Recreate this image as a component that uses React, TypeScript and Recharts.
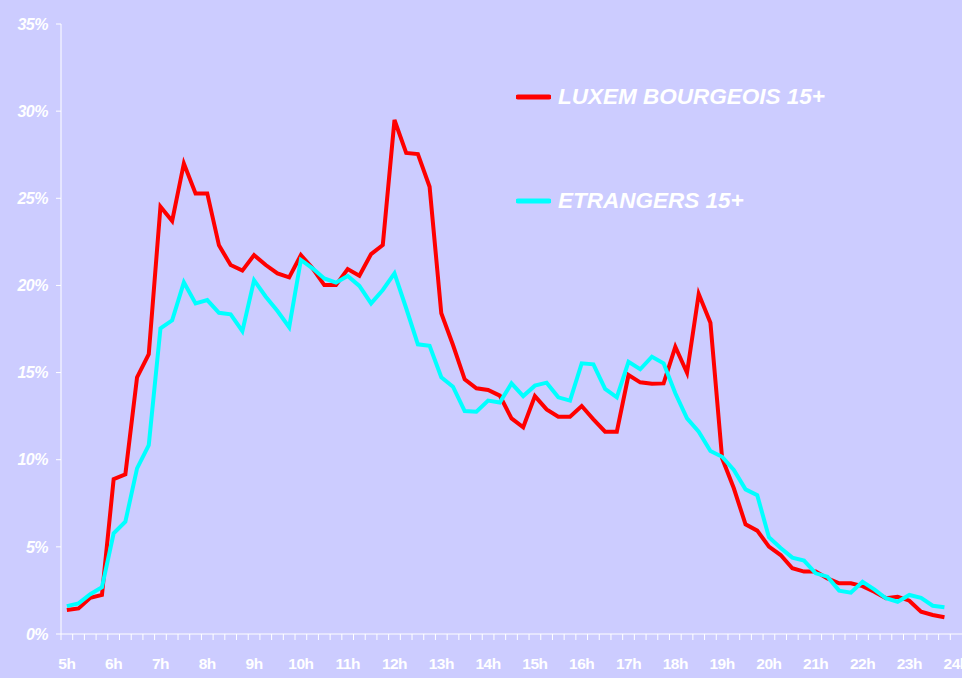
import React from "react";
import { LineChart, Line, XAxis, YAxis, Legend } from "recharts";

// hour labels shown on the x axis (one category every quarter hour)
const HOURS = ["5h", "6h", "7h", "8h", "9h", "10h", "11h", "12h", "13h", "14h", "15h", "16h", "17h", "18h", "19h", "20h", "21h", "22h", "23h", "24h"];
const QUARTERS = ["", "15", "30", "45"];

const Y_TICKS = [0, 5, 10, 15, 20, 25, 30, 35];

const LUXEMBOURGEOIS = [
  1.38, 1.47, 2.08, 2.24, 8.89, 9.16, 14.73, 16.06,
  24.52, 23.7, 27.0, 25.28, 25.28, 22.3, 21.17, 20.85,
  21.74, 21.17, 20.69, 20.46, 21.74, 20.98, 20.02, 20.02,
  20.94, 20.56, 21.8, 22.32, 29.49, 27.6, 27.54, 25.66,
  18.4, 16.58, 14.61, 14.1, 14.0, 13.68, 12.37, 11.86,
  13.65, 12.89, 12.47, 12.47, 13.08, 12.32, 11.61, 11.61,
  14.86, 14.44, 14.36, 14.38, 16.48, 14.99, 19.51, 17.86,
  10.08, 8.36, 6.29, 5.93, 5.01, 4.53, 3.77, 3.58,
  3.58, 3.19, 2.91, 2.91, 2.75, 2.43, 2.05, 2.14,
  1.91, 1.28, 1.09, 0.96,
];

const ETRANGERS = [
  1.6, 1.76, 2.28, 2.68, 5.78, 6.44, 9.5, 10.84,
  17.54, 18.0, 20.18, 18.97, 19.16, 18.43, 18.34, 17.38,
  20.3, 19.35, 18.53, 17.6, 21.46, 20.98, 20.4, 20.16,
  20.54, 19.97, 18.97, 19.74, 20.69, 18.69, 16.62, 16.54,
  14.73, 14.19, 12.79, 12.75, 13.39, 13.28, 14.38, 13.65,
  14.25, 14.42, 13.58, 13.39, 15.53, 15.47, 14.06, 13.58,
  15.62, 15.19, 15.91, 15.53, 13.81, 12.37, 11.61, 10.5,
  10.17, 9.41, 8.3, 7.97, 5.55, 4.93, 4.38, 4.21,
  3.48, 3.29, 2.49, 2.37, 3.0, 2.56, 2.05, 1.85,
  2.24, 2.08, 1.62, 1.53,
];

const SERIES = [
  { key: "lux", name: "LUXEM BOURGEOIS 15+", color: "#FF0000" },
  { key: "etr", name: "ETRANGERS 15+", color: "#00FFFF" },
];

// quarter-hour slots, plus the empty 24h slot at the end
const slots: string[] = [];
HOURS.slice(0, -1).forEach((h) => QUARTERS.forEach((q) => slots.push(h + q)));
slots.push(HOURS[HOURS.length - 1]);

const data = slots.map((slot, i) => ({
  slot,
  lux: i < LUXEMBOURGEOIS.length ? LUXEMBOURGEOIS[i] : null,
  etr: i < ETRANGERS.length ? ETRANGERS[i] : null,
}));

const W = 962;
const H = 678;
const Y_AXIS_W = 61;
const BAND = (W - Y_AXIS_W) / slots.length;
const FONT = "'Liberation Sans', Arial, sans-serif";

const XTick = (props: any) => {
  const { x, y, payload } = props;
  const isHour = HOURS.includes(payload.value);
  return (
    <g>
      <line x1={x - BAND / 2} x2={x - BAND / 2} y1={y} y2={y + 6} stroke="#fff" strokeWidth={1} />
      {isHour && (
        <text
          x={x}
          y={y + 35}
          textAnchor="middle"
          fill="#fff"
          fontFamily={FONT}
          fontWeight="bold"
          fontSize={15.5}
          letterSpacing={-0.5}
        >
          {payload.value}
        </text>
      )}
    </g>
  );
};

const renderLegend = () => (
  <div>
    {SERIES.map((s, i) => (
      <div
        key={s.key}
        style={{ display: "flex", alignItems: "center", height: 30, marginBottom: i === 0 ? 74 : 0 }}
      >
        <svg width={35} height={8}>
          <line x1={2} y1={4} x2={33} y2={4} stroke={s.color} strokeWidth={5} strokeLinecap="round" />
        </svg>
        <span
          style={{
            marginLeft: 7,
            color: "#fff",
            fontFamily: FONT,
            fontStyle: "italic",
            fontWeight: "bold",
            fontSize: 22.5,
            whiteSpace: "nowrap",
          }}
        >
          {s.name}
        </span>
      </div>
    ))}
  </div>
);

export default function App() {
  return (
    <div
      style={{
        position: "absolute",
        left: 0,
        top: 0,
        width: W,
        height: H,
        background: "#CCCCFF",
        overflow: "hidden",
      }}
    >
      <LineChart width={W} height={H} data={data} margin={{ top: 24, right: 0, bottom: 0, left: 0 }}>
        <XAxis
          dataKey="slot"
          scale="band"
          interval={0}
          height={44}
          axisLine={{ stroke: "#fff", strokeWidth: 1 }}
          tickLine={false}
          tickSize={0}
          tickMargin={0}
          tick={<XTick />}
        />
        <YAxis
          width={Y_AXIS_W}
          domain={[0, 35]}
          ticks={Y_TICKS}
          tickFormatter={(v) => `${v}%`}
          axisLine={{ stroke: "#fff", strokeWidth: 1 }}
          tickLine={{ stroke: "#fff" }}
          tickSize={5}
          tickMargin={8}
          tick={{ fill: "#fff", fontFamily: FONT, fontStyle: "italic", fontWeight: "bold", fontSize: 16, letterSpacing: -0.5 }}
        />
        <Legend
          layout="vertical"
          align="center"
          verticalAlign="middle"
          content={renderLegend}
          wrapperStyle={{ left: 516, top: 82, width: "auto", height: "auto" }}
        />
        {SERIES.map((s) => (
          <Line
            key={s.key}
            dataKey={s.key}
            name={s.name}
            type="linear"
            stroke={s.color}
            strokeWidth={4}
            dot={false}
            activeDot={false}
            isAnimationActive={false}
          />
        ))}
      </LineChart>
    </div>
  );
}
